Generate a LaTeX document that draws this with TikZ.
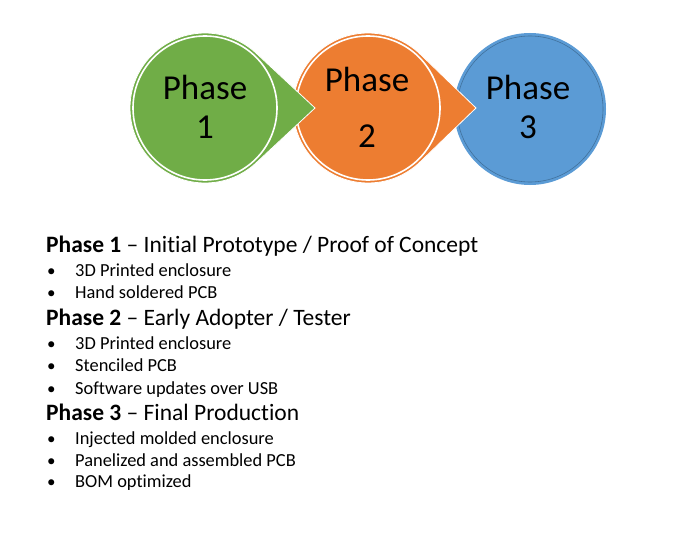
\documentclass[tikz,border=0pt]{standalone}
\usepackage{fontspec}
\setmainfont{Carlito}[Ligatures=NoCommon]
\usetikzlibrary{calc}
\definecolor{pgreen}{HTML}{70AD47}
\definecolor{porange}{HTML}{ED7D31}
\definecolor{pblue}{HTML}{5B9BD5}
\definecolor{pbluering}{HTML}{41719C}
\tikzset{
  drop/.style={draw=white, line width=0.8pt},
  ringw/.style={draw=white, line width=1.6pt},
  ringb/.style={draw=pbluering, line width=0.6pt},
  phasetxt/.style={font=\fontsize{35}{40}\selectfont, inner sep=0pt},
  headtxt/.style={font=\fontsize{23.5}{27}\selectfont, anchor=base west, inner sep=0pt},
  itemtxt/.style={font=\fontsize{18.4}{21}\selectfont, anchor=base west, inner sep=0pt},
  bul/.style={font=\fontsize{17}{20}\selectfont, anchor=base west, inner sep=0pt}
}
\begin{document}
\begin{tikzpicture}[x=1pt,y=-1pt]
\useasboundingbox (0,0) rectangle (700,532);
% Phase 3 (blue, bottom layer)
\coordinate (c3) at (530,109);
\fill[pblue] (c3) circle[radius=76];
\draw[ringb] (c3) circle[radius=73];
% Phase 2 (orange)
\coordinate (c2) at (368,108);
\coordinate (t2) at (476,108);
\path let \p1=($(t2)-(c2)$), \n1={acos(75/veclen(\x1,\y1))} in
  [fill=porange, drop] (t2) -- ($(c2)+(\n1:75)$) arc[start angle=\n1, end angle=360-\n1, radius=75] -- cycle;
\draw[ringw] (c2) circle[radius=72];
% Phase 1 (green, top layer)
\coordinate (c1) at (205,108);
\coordinate (t1) at (315,108);
\path let \p1=($(t1)-(c1)$), \n1={acos(75/veclen(\x1,\y1))} in
  [fill=pgreen, drop] (t1) -- ($(c1)+(\n1:75)$) arc[start angle=\n1, end angle=360-\n1, radius=75] -- cycle;
\draw[ringw] (c1) circle[radius=72];
% circle labels
\node[phasetxt] (p1a) at (205,87) {Phase};
\node[phasetxt] (p1b) at (205,127) {1};
\node[phasetxt] (p2a) at (367,79) {Phase};
\node[phasetxt] (p2b) at (367,136) {2};
\node[phasetxt] (p3a) at (528,87) {Phase};
\node[phasetxt] (p3b) at (528,127) {3};
% text list
\node[headtxt] (h1) at (46,252.7) {\textbf{Phase 1} – Initial Prototype / Proof of Concept};
\node[bul] (b11) at (47,276.7) {•};
\node[itemtxt] (i11) at (75,276.7) {3D Printed enclosure};
\node[bul] (b12) at (47,298) {•};
\node[itemtxt] (i12) at (75,298) {Hand soldered PCB};
\node[headtxt] (h2) at (46,325) {\textbf{Phase 2} – Early Adopter / Tester};
\node[bul] (b21) at (47,349.3) {•};
\node[itemtxt] (i21) at (75,349.3) {3D Printed enclosure};
\node[bul] (b22) at (47,371.5) {•};
\node[itemtxt] (i22) at (75,371.5) {Stenciled PCB};
\node[bul] (b23) at (47,394) {•};
\node[itemtxt] (i23) at (75,394) {Software updates over USB};
\node[headtxt] (h3) at (46,420) {\textbf{Phase 3} – Final Production};
\node[bul] (b31) at (47,444) {•};
\node[itemtxt] (i31) at (75,444) {Injected molded enclosure};
\node[bul] (b32) at (47,466) {•};
\node[itemtxt] (i32) at (75,466) {Panelized and assembled PCB};
\node[bul] (b33) at (47,487.3) {•};
\node[itemtxt] (i33) at (75,487.3) {BOM optimized};
\end{tikzpicture}
\end{document}
